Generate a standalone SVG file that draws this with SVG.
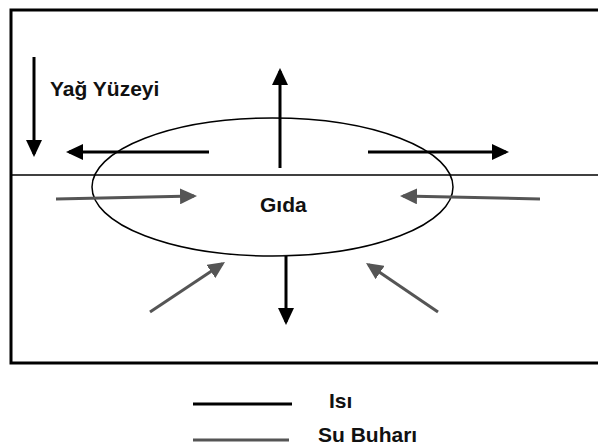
<svg xmlns="http://www.w3.org/2000/svg" width="598" height="448" viewBox="0 0 598 448">
<style>
.t{font-family:"Liberation Sans",Arial,sans-serif;font-weight:bold;font-size:21px;fill:#111}
.heat{stroke:#000;stroke-width:3;fill:none}
.vap{stroke:#555;stroke-width:3;fill:none}
</style>
<defs>
<marker id="hb" markerUnits="userSpaceOnUse" markerWidth="17" markerHeight="16" refX="14" refY="8" orient="auto"><path d="M0,0 L17,8 L0,16 z" fill="#000"/></marker>
<marker id="hg" markerUnits="userSpaceOnUse" markerWidth="17" markerHeight="16" refX="14" refY="8" orient="auto"><path d="M0,0 L17,8 L0,16 z" fill="#555"/></marker>
</defs>
<rect width="598" height="448" fill="#fff"/>
<g id="frame">
<path d="M598,10 H11 V363 H598" fill="none" stroke="#000" stroke-width="3"/>
<line x1="11" y1="175" x2="598" y2="175" stroke="#000" stroke-width="1.5"/>
</g>
<g id="yag-yuzeyi"><text class="t" x="50" y="96">Yağ Yüzeyi</text></g>
<g id="gida">
<ellipse cx="272.5" cy="187" rx="180.5" ry="69" fill="none" stroke="#000" stroke-width="1.5"/>
<text class="t" x="260" y="212">Gıda</text>
</g>
<g id="connectors">
<line class="heat" x1="34" y1="57" x2="34" y2="154" marker-end="url(#hb)"/>
<line class="heat" x1="209" y1="152" x2="69" y2="152" marker-end="url(#hb)"/>
<line class="heat" x1="280" y1="168" x2="280" y2="71" marker-end="url(#hb)"/>
<line class="heat" x1="368" y1="152" x2="506" y2="152" marker-end="url(#hb)"/>
<line class="heat" x1="286" y1="256" x2="286" y2="322" marker-end="url(#hb)"/>
<line class="vap" x1="56" y1="199" x2="194" y2="196" marker-end="url(#hg)"/>
<line class="vap" x1="540" y1="199" x2="403" y2="196" marker-end="url(#hg)"/>
<line class="vap" x1="150" y1="312" x2="222.5" y2="263.7" marker-end="url(#hg)"/>
<line class="vap" x1="438" y1="312" x2="368.5" y2="264.7" marker-end="url(#hg)"/>
</g>
<g id="legend">
<line x1="193" y1="404" x2="292" y2="404" stroke="#000" stroke-width="3"/>
<text class="t" x="329" y="408">Isı</text>
<line x1="193" y1="440" x2="289" y2="440" stroke="#555" stroke-width="3"/>
<text class="t" x="318" y="442">Su Buharı</text>
</g>
</svg>
